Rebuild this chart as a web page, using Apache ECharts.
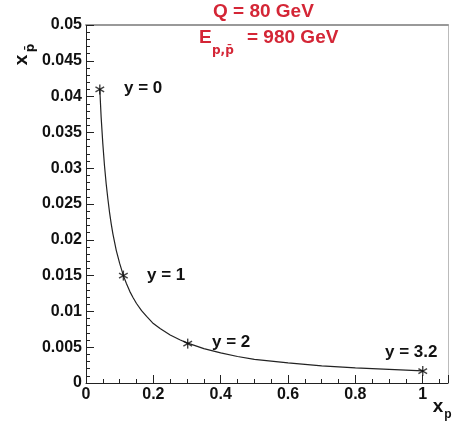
<!DOCTYPE html>
<html><head><meta charset="utf-8">
<script src="https://cdn.jsdelivr.net/npm/echarts@6/dist/echarts.min.js"></script>
<style>html,body{margin:0;padding:0;background:#fff;}#c{width:453px;height:422px;}</style>
</head><body><div id="c"></div>
<script>
// curve: x_p and x_pbar
const curveXp   = [0.041, 0.045, 0.05, 0.055, 0.06, 0.065, 0.07, 0.075, 0.08, 0.09, 0.10, 0.111, 0.12, 0.13, 0.14, 0.15, 0.165, 0.18, 0.20, 0.22, 0.25, 0.28, 0.30, 0.35, 0.40, 0.45, 0.50, 0.60, 0.70, 0.80, 0.90, 1.00];
const curveXpb  = [0.0410, 0.0371, 0.0334, 0.0303, 0.0278, 0.0257, 0.0238, 0.0222, 0.0208, 0.0185, 0.0167, 0.0150, 0.0139, 0.0128, 0.0119, 0.0111, 0.0101, 0.0093, 0.0083, 0.0076, 0.0067, 0.0060, 0.0056, 0.0048, 0.0042, 0.0037, 0.0033, 0.0028, 0.0024, 0.0021, 0.0019, 0.0017];
// marked rapidity points
const markXp    = [0.041, 0.111, 0.302, 1.0];
const markXpb   = [0.0410, 0.0150, 0.0055, 0.00167];
const markLabels= ['y = 0', 'y = 1', 'y = 2', 'y = 3.2'];

const FONT = 'Liberation Sans';
const RED = '#d42636';
const X_MAX = 1.075, Y_MAX = 0.05;
const chart = echarts.init(document.getElementById('c'));
const labelPos = [[124,88],[147,275],[212,342],[385,352]];

const graphics = [
  {type:'text', x:213, y:2, style:{text:'Q = 80 GeV', font:'bold 19px '+FONT, fill:RED}},
  {type:'text', x:199, y:38, style:{text:'E', font:'bold 19px '+FONT, fill:RED, textVerticalAlign:'middle'}},
  {type:'text', x:212, y:51, style:{text:'p,p\u0304', font:'bold 12px DejaVu Sans', fill:RED, textVerticalAlign:'middle'}},
  {type:'text', x:247, y:38, style:{text:'= 980 GeV', font:'bold 19px '+FONT, fill:RED, textVerticalAlign:'middle'}},
  {type:'text', x:438, y:407, style:{text:'x', font:'bold 19px '+FONT, fill:'#111', textAlign:'center', textVerticalAlign:'middle'}},
  {type:'text', x:448, y:415, style:{text:'p', font:'bold 12px '+FONT, fill:'#111', textAlign:'center', textVerticalAlign:'middle'}},
  {type:'text', x:22, y:60, rotation:Math.PI/2, style:{text:'x', font:'bold 19px '+FONT, fill:'#111', textAlign:'center', textVerticalAlign:'middle'}},
  {type:'text', x:31, y:48, rotation:Math.PI/2, style:{text:'p\u0304', font:'bold 12px DejaVu Sans', fill:'#111', textAlign:'center', textVerticalAlign:'middle'}}
];
markLabels.forEach((t,i)=>{
  graphics.push({type:'text', x:labelPos[i][0], y:labelPos[i][1], style:{text:t, font:'bold 17px '+FONT, fill:'#111', textVerticalAlign:'middle'}});
});

// asterisk built from three thin rotated bars
function starArm(rot) {
  return {type:'scatter', xAxisIndex:0, yAxisIndex:0, data:markXp.map((x,i)=>[x,markXpb[i]]),
    symbol:'rect', symbolSize:[1.4,10], symbolRotate:rot, silent:true, z:4, itemStyle:{color:'#111'}};
}

chart.setOption({
  animation:false,
  grid:{left:86, top:25, right:5, bottom:39},
  xAxis:[
    {type:'value', min:0, max:X_MAX, interval:0.2,
      axisLine:{show:true, lineStyle:{color:'#222', width:1}},
      axisTick:{show:true, inside:true, length:8, lineStyle:{color:'#222', width:1}},
      minorTick:{show:true, splitNumber:4, length:4, lineStyle:{color:'#222', width:1}},
      splitLine:{show:false},
      axisLabel:{showMaxLabel:false, margin:4, color:'#111', fontFamily:FONT, fontWeight:'bold', fontSize:16}},
    {type:'value', position:'top', min:0, max:X_MAX,
      axisLine:{show:true, onZero:false, lineStyle:{color:'#999', width:2}},
      axisTick:{show:false}, axisLabel:{show:false}, splitLine:{show:false}}
  ],
  yAxis:[
    {type:'value', min:0, max:Y_MAX, interval:0.005,
      axisLine:{show:true, lineStyle:{color:'#222', width:1}},
      axisTick:{show:true, inside:true, length:8, lineStyle:{color:'#222', width:1}},
      minorTick:{show:true, splitNumber:5, length:4, lineStyle:{color:'#222', width:1}},
      splitLine:{show:false},
      axisLabel:{margin:4, color:'#111', fontFamily:FONT, fontWeight:'bold', fontSize:16}},
    {type:'value', position:'right', min:0, max:Y_MAX,
      axisLine:{show:true, onZero:false, lineStyle:{color:'#bbb', width:1}},
      axisTick:{show:false}, axisLabel:{show:false}, splitLine:{show:false}}
  ],
  graphic:graphics,
  series:[
    {type:'line', xAxisIndex:0, yAxisIndex:0, data:curveXp.map((x,i)=>[x,curveXpb[i]]), smooth:false, showSymbol:false,
      lineStyle:{color:'#222', width:1.2}},
    starArm(0), starArm(60), starArm(-60)
  ]
});
</script></body></html>
